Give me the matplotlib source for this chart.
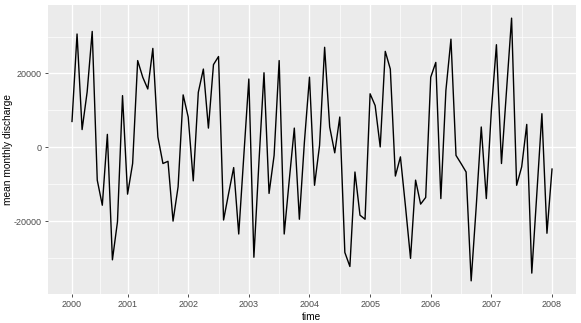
import matplotlib
matplotlib.use("Agg")
import matplotlib.pyplot as plt
import numpy as np

# monthly discharge anomalies (96 months, ending Jan 2008)
discharge = [
    7000, 30700, 4800, 15000, 31400, -8900, -15700, 3500, -30500, -20200, 14000,
    -12700, -4400, 23500, 19000, 15800, 26800, 2800, -4400, -3800, -20000, -10700, 14200,
    8200, -9100, 14900, 21200, 5200, 22400, 24600, -19700, -12500, -5500, -23500, -2400, 18500,
    -29800, -4000, 20200, -12500, -2200, 23500, -23500, -8900, 5200, -19500, 1500, 19000,
    -10300, 540, 27100, 5500, -1500, 8200, -28500, -32300, -6700, -18400, -19500, 14500,
    11300, 100, 26000, 21200, -7800, -2600, -16000, -30100, -8900, -15400, -13600, 19000,
    23000, -13900, 15400, 29300, -2200, -4400, -6700, -36200, -16100, 5500, -13900, 10000,
    27800, -4400, 15400, 35000, -10300, -5300, 6200, -34100, -12500, 9100, -23300, -5900,
]
year_labels = ["2000", "2001", "2002", "2003", "2004", "2005", "2006", "2007", "2008"]
y_major = [-20000, 0, 20000]
y_minor = [-30000, -10000, 10000, 30000]

n = len(discharge)
time = 2008 - (n - 1 - np.arange(n)) / 12.0

plt.rcParams["font.family"] = ["Liberation Sans", "DejaVu Sans"]

fig = plt.figure(figsize=(5.81, 3.23), dpi=100)
ax = fig.add_axes([0.0826, 0.0898, 0.9914 - 0.0826, 0.9845 - 0.0898])
ax.set_facecolor("#EBEBEB")

ax.plot(time, discharge, color="black", linewidth=1.0, zorder=3)

# x breaks: first observation plus each January
x_major = [time[0]] + [2001 + i for i in range(8)]
x_minor = [(a + b) / 2 for a, b in zip(x_major[:-1], x_major[1:])]

lo, hi = min(discharge), max(discharge)
pad = (hi - lo) * 0.05
ax.set_ylim(lo - pad, hi + pad)
xpad = (time[-1] - time[0]) * 0.05
ax.set_xlim(time[0] - xpad, time[-1] + xpad)

ax.set_xticks(x_major)
ax.set_xticklabels(year_labels)
ax.set_xticks(x_minor, minor=True)
ax.set_yticks(y_major)
ax.set_yticklabels([str(v) for v in y_major])
ax.set_yticks(y_minor, minor=True)

ax.grid(which="major", color="white", linewidth=1.0, zorder=1)
ax.grid(which="minor", color="white", linewidth=0.5, zorder=1)
ax.set_axisbelow(True)

for s in ax.spines.values():
    s.set_visible(False)

ax.tick_params(which="major", length=2.5, width=0.6, color="#333333",
               labelsize=6.5, labelcolor="#4D4D4D", pad=2)
ax.tick_params(which="minor", length=0)

ax.set_xlabel("time", fontsize=7.3, labelpad=2)
ax.set_ylabel("mean monthly discharge", fontsize=7.3, va="center")
ax.yaxis.set_label_coords(-0.075, 0.5)

fig.savefig("out.png", dpi=100)
